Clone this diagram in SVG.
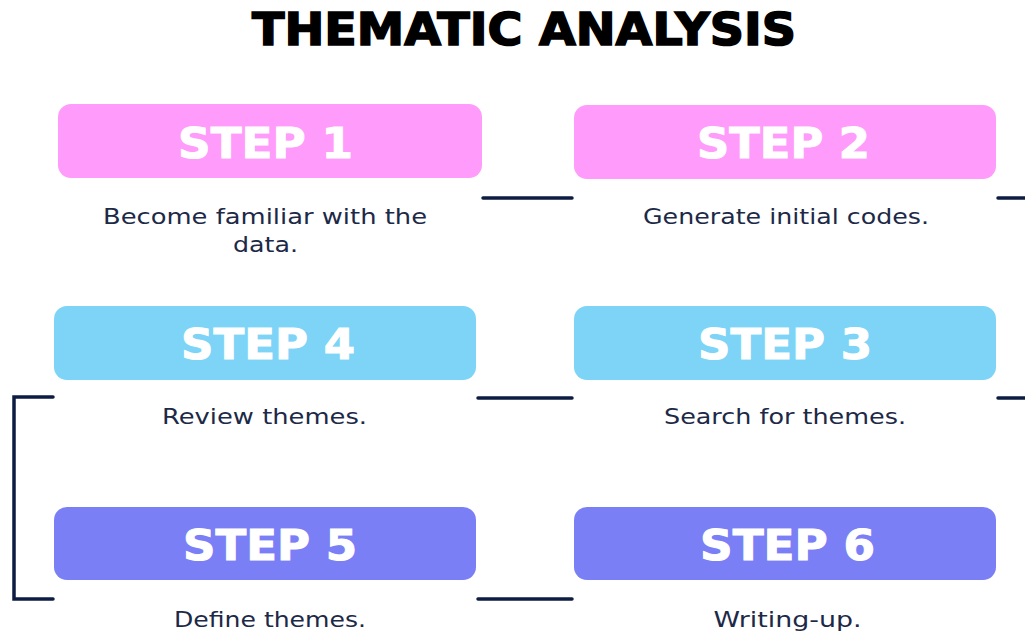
<svg xmlns="http://www.w3.org/2000/svg" width="1025" height="631" viewBox="0 0 1025 631">
<style>
.title{font-family:"DejaVu Sans","Liberation Sans",sans-serif;font-weight:bold;font-size:45px;fill:#000;stroke:#000;stroke-width:1.6;text-anchor:middle}
.step{font-family:"DejaVu Sans","Liberation Sans",sans-serif;font-weight:bold;font-size:42px;fill:#fff;stroke:#fff;stroke-width:1;text-anchor:middle}
.desc{font-family:"DejaVu Sans","Liberation Sans",sans-serif;font-size:22px;fill:#1c2947;text-anchor:middle}
.pink{fill:#ff9bfa}.blue{fill:#7dd4f6}.purple{fill:#7a7ff6}
.con{stroke:#0d1c42;stroke-width:3.5;fill:none;stroke-linecap:round}
</style>
<rect width="1025" height="631" fill="#fff"/>
<text class="title" x="524" y="45" textLength="544" lengthAdjust="spacingAndGlyphs">THEMATIC ANALYSIS</text>
<g id="connectors">
<line class="con" x1="483" y1="198" x2="572" y2="198"/>
<line class="con" x1="998" y1="198" x2="1030" y2="198"/>
<line class="con" x1="478" y1="398" x2="572" y2="398"/>
<line class="con" x1="998" y1="398" x2="1030" y2="398"/>
<line class="con" x1="478" y1="599" x2="572" y2="599"/>
<path class="con" d="M53 397 H14 V599 H53"/>
</g>
<g id="step1">
<rect class="pink" x="58" y="104" width="424" height="74" rx="13"/>
<text class="step" x="265.5" y="158" textLength="175" lengthAdjust="spacingAndGlyphs">STEP 1</text>
<text class="desc" x="265" y="224" textLength="324" lengthAdjust="spacingAndGlyphs">Become familiar with the</text>
<text class="desc" x="265.5" y="252" textLength="65" lengthAdjust="spacingAndGlyphs">data.</text>
</g>
<g id="step2">
<rect class="pink" x="574" y="105" width="422" height="74" rx="13"/>
<text class="step" x="783.5" y="158" textLength="173" lengthAdjust="spacingAndGlyphs">STEP 2</text>
<text class="desc" x="786" y="224" textLength="286" lengthAdjust="spacingAndGlyphs">Generate initial codes.</text>
</g>
<g id="step4">
<rect class="blue" x="54" y="306" width="422" height="74" rx="13"/>
<text class="step" x="268" y="359" textLength="174" lengthAdjust="spacingAndGlyphs">STEP 4</text>
<text class="desc" x="264.5" y="424" textLength="205" lengthAdjust="spacingAndGlyphs">Review themes.</text>
</g>
<g id="step3">
<rect class="blue" x="574" y="306" width="422" height="74" rx="13"/>
<text class="step" x="785" y="359" textLength="174" lengthAdjust="spacingAndGlyphs">STEP 3</text>
<text class="desc" x="785" y="424" textLength="242" lengthAdjust="spacingAndGlyphs">Search for themes.</text>
</g>
<g id="step5">
<rect class="purple" x="54" y="507" width="422" height="73" rx="13"/>
<text class="step" x="270" y="560" textLength="174" lengthAdjust="spacingAndGlyphs">STEP 5</text>
<text class="desc" x="270" y="627" textLength="192" lengthAdjust="spacingAndGlyphs">Define themes.</text>
</g>
<g id="step6">
<rect class="purple" x="574" y="507" width="422" height="73" rx="13"/>
<text class="step" x="787.5" y="560" textLength="175" lengthAdjust="spacingAndGlyphs">STEP 6</text>
<text class="desc" x="787.5" y="627" textLength="148" lengthAdjust="spacingAndGlyphs">Writing-up.</text>
</g>
</svg>
